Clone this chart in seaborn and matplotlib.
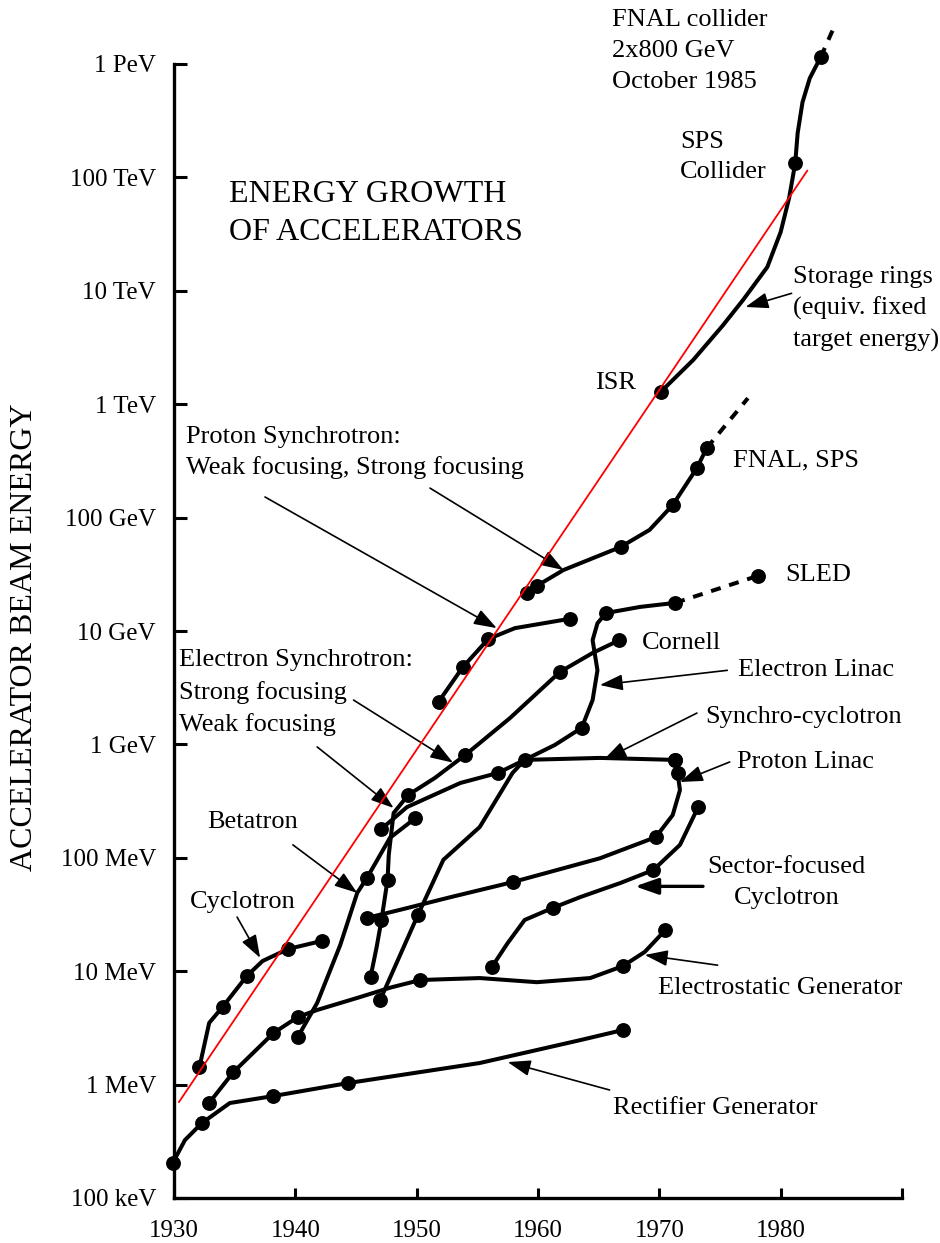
import matplotlib
matplotlib.use("Agg")
import matplotlib.pyplot as plt
from matplotlib.ticker import FixedLocator, NullLocator
import seaborn as sns

# ---------------- data (year, beam energy in eV) ----------------
rect_year = [1929.9, 1930.9, 1932.3, 1934.6, 1938.2, 1944.3, 1955.2, 1963.5, 1967.0]
rect_ev = [2.04e5, 3.24e5, 4.58e5, 6.88e5, 7.93e5, 1.03e6, 1.55e6, 2.47e6, 3.03e6]
rect_mark_year = [1929.9, 1932.3, 1938.2, 1944.3, 1967.0]
rect_mark_ev = [2.04e5, 4.58e5, 7.93e5, 1.03e6, 3.03e6]

estat_year = [1932.9, 1934.9, 1938.2, 1940.2, 1941.8, 1945.3, 1947.9, 1950.3, 1955.2, 1959.9, 1964.3, 1967.0, 1968.8, 1970.5]
estat_ev = [6.9e5, 1.29e6, 2.85e6, 3.94e6, 4.55e6, 5.9e6, 7.2e6, 8.36e6, 8.7e6, 8.0e6, 8.7e6, 1.11e7, 1.48e7, 2.31e7]
estat_mark_year = [1932.9, 1934.9, 1938.2, 1940.2, 1950.3, 1967.0, 1970.5]
estat_mark_ev = [6.9e5, 1.29e6, 2.85e6, 3.94e6, 8.36e6, 1.11e7, 2.31e7]

cyc_year = [1932.1, 1932.9, 1934.0, 1936.0, 1937.3, 1939.4, 1942.2]
cyc_ev = [1.43e6, 3.5e6, 4.83e6, 9.07e6, 1.23e7, 1.57e7, 1.85e7]
cyc_mark_year = [1932.1, 1934.0, 1936.0, 1939.4, 1942.2]
cyc_mark_ev = [1.43e6, 4.83e6, 9.07e6, 1.57e7, 1.85e7]

beta_year = [1940.2, 1941.8, 1943.7, 1945.1, 1945.9, 1947.8, 1949.9]
beta_ev = [2.63e6, 5.25e6, 1.70e7, 4.9e7, 6.64e7, 1.5e8, 2.24e8]
beta_mark_year = [1940.2, 1945.9, 1949.9]
beta_mark_ev = [2.63e6, 6.64e7, 2.24e8]

esyn_year = [1946.2, 1946.7, 1947.1, 1947.6, 1947.7, 1948.1, 1949.3, 1951.5, 1954.0, 1957.7, 1961.8, 1964.5, 1966.7]
esyn_ev = [8.9e6, 1.63e7, 2.83e7, 6.4e7, 1.06e8, 2.48e8, 3.58e8, 5.06e8, 8.06e8, 1.71e9, 4.35e9, 6.4e9, 8.3e9]
esyn_mark_year = [1946.2, 1947.1, 1947.6, 1949.3, 1954.0, 1961.8, 1966.7]
esyn_mark_ev = [8.9e6, 2.83e7, 6.4e7, 3.58e8, 8.06e8, 4.35e9, 8.3e9]

sync_year = [1947.1, 1949.2, 1953.6, 1956.7, 1958.9, 1965.1, 1971.3]
sync_ev = [1.8e8, 2.8e8, 4.57e8, 5.6e8, 7.3e8, 7.6e8, 7.3e8]
sync_mark_year = [1947.1, 1956.7, 1958.9, 1971.3]
sync_mark_ev = [1.8e8, 5.6e8, 7.3e8, 7.3e8]

plin_year = [1945.9, 1948.6, 1952.8, 1957.9, 1965.1, 1969.7, 1971.1, 1971.7, 1971.5, 1971.3]
plin_ev = [2.95e7, 3.47e7, 4.5e7, 6.1e7, 9.9e7, 1.52e8, 2.38e8, 3.96e8, 5.6e8, 7.3e8]
plin_mark_year = [1945.9, 1957.9, 1969.7, 1971.5, 1971.3]
plin_mark_ev = [2.95e7, 6.1e7, 1.52e8, 5.6e8, 7.3e8]

elin_year = [1947.0, 1950.1, 1952.2, 1955.2, 1957.9, 1958.9, 1961.4, 1963.6, 1964.5, 1964.9, 1964.5, 1964.9, 1965.6, 1968.4, 1971.3]
elin_ev = [5.6e6, 3.13e7, 9.6e7, 1.87e8, 5.6e8, 7.3e8, 9.9e8, 1.4e9, 2.46e9, 4.5e9, 8.3e9, 1.17e10, 1.44e10, 1.63e10, 1.77e10]
elin_mark_year = [1947.0, 1950.1, 1963.6, 1965.6, 1971.3]
elin_mark_ev = [5.6e6, 3.13e7, 1.4e9, 1.44e10, 1.77e10]
sled_year = [1971.3, 1978.1]
sled_ev = [1.77e10, 3.06e10]

sect_year = [1956.2, 1957.5, 1958.9, 1961.2, 1963.5, 1966.8, 1969.5, 1971.7, 1973.2]
sect_ev = [1.09e7, 1.77e7, 2.83e7, 3.61e7, 4.51e7, 6.0e7, 7.8e7, 1.3e8, 2.8e8]
sect_mark_year = [1956.2, 1961.2, 1969.5, 1973.2]
sect_mark_ev = [1.09e7, 3.61e7, 7.8e7, 2.8e8]

psw_year = [1951.8, 1953.8, 1955.9, 1958.1, 1962.6]
psw_ev = [2.37e9, 4.8e9, 8.5e9, 1.06e10, 1.28e10]
psw_mark_year = [1951.8, 1953.8, 1955.9, 1962.6]
psw_mark_ev = [2.37e9, 4.8e9, 8.5e9, 1.28e10]

pss_year = [1959.1, 1959.9, 1962.1, 1966.8, 1969.2, 1971.1, 1973.1, 1973.9]
pss_ev = [2.16e10, 2.5e10, 3.45e10, 5.5e10, 7.8e10, 1.29e11, 2.74e11, 4.1e11]
pss_mark_year = [1959.1, 1959.9, 1966.8, 1971.1, 1973.1, 1973.9]
pss_mark_ev = [2.16e10, 2.5e10, 5.5e10, 1.29e11, 2.74e11, 4.1e11]
pss_dash_year = [1973.9, 1977.3]
pss_dash_ev = [4.1e11, 1.13e12]

stor_year = [1970.1, 1972.8, 1975.2, 1976.9, 1978.9, 1980.0, 1980.7, 1981.2, 1981.4, 1981.8, 1982.4, 1983.3]
stor_ev = [1.28e12, 2.46e12, 4.9e12, 8.3e12, 1.62e13, 3.3e13, 6.6e13, 1.34e14, 2.46e14, 4.6e14, 7.5e14, 1.15e15]
stor_mark_year = [1970.1, 1981.2, 1983.3]
stor_mark_ev = [1.28e12, 1.34e14, 1.15e15]
stor_dash_year = [1983.3, 1984.3]
stor_dash_ev = [1.15e15, 2.0e15]

trend_year = [1930.4, 1982.2]
trend_ev = [7.0e5, 1.15e14]

ytick_values = [1e5, 1e6, 1e7, 1e8, 1e9, 1e10, 1e11, 1e12, 1e13, 1e14, 1e15]
ytick_labels = ["100 keV", "1 MeV", "10 MeV", "100 MeV", "1 GeV", "10 GeV",
                "100 GeV", "1 TeV", "10 TeV", "100 TeV", "1 PeV"]
xtick_values = [1930, 1940, 1950, 1960, 1970, 1980, 1990]
xtick_labels = ["1930", "1940", "1950", "1960", "1970", "1980", ""]

# ---------------- style ----------------
sns.set_theme(style="white")
plt.rcParams["font.family"] = ["Liberation Serif", "DejaVu Serif"]

fig = plt.figure(figsize=(9.4, 12.43), dpi=100)
ax = fig.add_axes([174 / 940, 45 / 1243, (902 - 174) / 940, 1198 / 1243])
ax.set_yscale("log")
ax.set_xlim(1930, 1990)
ax.set_ylim(1e5, 10 ** (5 + 1198 / 113.4))

LW = 2.9
MS = 115

def curve(xs, ys):
    sns.lineplot(x=xs, y=ys, sort=False, estimator=None, color="black", lw=LW, ax=ax,
                 clip_on=False, solid_joinstyle="round", solid_capstyle="round")

def marks(xs, ys):
    sns.scatterplot(x=xs, y=ys, color="black", s=MS, edgecolor="black", linewidth=0,
                    ax=ax, clip_on=False, zorder=5)

for p in [(rect_year, rect_ev), (estat_year, estat_ev), (cyc_year, cyc_ev),
          (beta_year, beta_ev), (esyn_year, esyn_ev), (sync_year, sync_ev),
          (plin_year, plin_ev), (elin_year, elin_ev), (sect_year, sect_ev),
          (psw_year, psw_ev), (pss_year, pss_ev), (stor_year, stor_ev)]:
    curve(*p)
for p in [(sled_year, sled_ev), (pss_dash_year, pss_dash_ev), (stor_dash_year, stor_dash_ev)]:
    ax.plot(p[0], p[1], color="black", lw=LW, dashes=(2.5, 2.2), clip_on=False)
for p in [(rect_mark_year, rect_mark_ev), (estat_mark_year, estat_mark_ev),
          (cyc_mark_year, cyc_mark_ev), (beta_mark_year, beta_mark_ev),
          (esyn_mark_year, esyn_mark_ev), (sync_mark_year, sync_mark_ev),
          (plin_mark_year, plin_mark_ev), (elin_mark_year, elin_mark_ev),
          (sect_mark_year, sect_mark_ev), (psw_mark_year, psw_mark_ev),
          (pss_mark_year, pss_mark_ev), (stor_mark_year, stor_mark_ev),
          ([sled_year[-1]], [sled_ev[-1]])]:
    marks(*p)

sns.lineplot(x=trend_year, y=trend_ev, color="red", lw=1.3, ax=ax, clip_on=False, zorder=6)

# ---------------- axes ----------------
for s in ["top", "right"]:
    ax.spines[s].set_visible(False)
for s in ["left", "bottom"]:
    ax.spines[s].set_color("black")
    ax.spines[s].set_linewidth(2.4)
ax.spines["left"].set_bounds(1e5, 1e15)
ax.spines["bottom"].set_bounds(1930, 1990)
ax.yaxis.set_major_locator(FixedLocator(ytick_values))
ax.yaxis.set_minor_locator(NullLocator())
ax.set_yticks(ytick_values)
ax.set_yticklabels(ytick_labels)
ax.set_xticks(xtick_values)
ax.set_xticklabels(xtick_labels)
ax.tick_params(axis="y", direction="in", length=9, width=2.2, labelsize=18, pad=13,
               left=True, colors="black")
ax.tick_params(axis="x", direction="in", length=7, width=2.2, labelsize=18, pad=16,
               bottom=True, colors="black")
ax.set_xlabel("")
ax.set_ylabel("")
ax.grid(False)

fig.text(25 / 940, 1 - 637 / 1243, "ACCELERATOR BEAM ENERGY", rotation=90,
         ha="center", va="center", fontsize=23, color="black")

# ---------------- labels ----------------
FS = 19
def label(x, y, s, ha="left", fs=FS):
    ax.text(x, y, s, ha=ha, va="center", fontsize=fs, color="black", clip_on=False)

label(1934.5, 7.0e13, "ENERGY GROWTH", fs=23)
label(1934.5, 3.3e13, "OF ACCELERATORS", fs=23)
label(1966.1, 2.44e15, "FNAL collider")
label(1966.1, 1.30e15, "2x800 GeV")
label(1966.1, 6.93e14, "October 1985")
label(1971.7, 2.05e14, "SPS")
label(1971.7, 1.11e14, "Collider")
label(1981.0, 1.32e13, "Storage rings")
label(1981.0, 7.05e12, "(equiv. fixed")
label(1981.0, 3.68e12, "target energy)")
label(1964.7, 1.54e12, "ISR")
label(1976.1, 3.22e11, "FNAL, SPS")
label(1980.4, 3.12e10, "SLED")
label(1968.6, 7.83e9, "Cornell")
label(1976.5, 4.53e9, "Electron Linac")
label(1973.8, 1.75e9, "Synchro-cyclotron")
label(1976.4, 7.0e8, "Proton Linac")
label(1980.5, 8.3e7, "Sector-focused", ha="center")
label(1980.5, 4.43e7, "Cyclotron", ha="center")
label(1969.9, 7.1e6, "Electrostatic Generator")
label(1966.2, 6.2e5, "Rectifier Generator")
label(1931.0, 5.14e11, "Proton Synchrotron:")
label(1931.0, 2.79e11, "Weak focusing, Strong focusing")
label(1930.4, 5.55e9, "Electron Synchrotron:")
label(1930.4, 2.84e9, "Strong focusing")
label(1930.4, 1.51e9, "Weak focusing")
label(1932.7, 2.07e8, "Betatron")
label(1931.3, 4.07e7, "Cyclotron")

# ---------------- arrows (tail -> head) ----------------
arrows = [
    ((1935.2, 3.0e7), (1937.1, 1.31e7), 1.2),
    ((1939.8, 1.30e8), (1945.1, 4.9e7), 1.2),
    ((1941.8, 9.5e8), (1948.1, 2.75e8), 1.2),
    ((1944.8, 2.46e9), (1953.0, 6.9e8), 1.2),
    ((1937.5, 1.52e11), (1956.6, 1.06e10), 1.2),
    ((1951.1, 1.82e11), (1962.1, 3.45e10), 1.2),
    ((1975.6, 4.5e9), (1965.1, 3.34e9), 1.2),
    ((1973.1, 1.89e9), (1965.4, 7.3e8), 1.2),
    ((1975.8, 7.0e8), (1971.7, 4.66e8), 1.2),
    ((1973.6, 5.6e7), (1968.0, 5.6e7), 2.4),
    ((1974.8, 1.13e7), (1968.8, 1.39e7), 1.2),
    ((1965.9, 8.96e5), (1957.5, 1.58e6), 1.2),
    ((1980.9, 9.5e12), (1977.1, 7.2e12), 1.2),
]
for tail, head, lw in arrows:
    ax.annotate("", xy=head, xytext=tail, annotation_clip=False,
                arrowprops=dict(arrowstyle="-|>,head_length=1.0,head_width=0.35",
                                mutation_scale=14, lw=lw, color="black",
                                shrinkA=0, shrinkB=0))

fig.savefig("out.png", dpi=100, facecolor="white")
